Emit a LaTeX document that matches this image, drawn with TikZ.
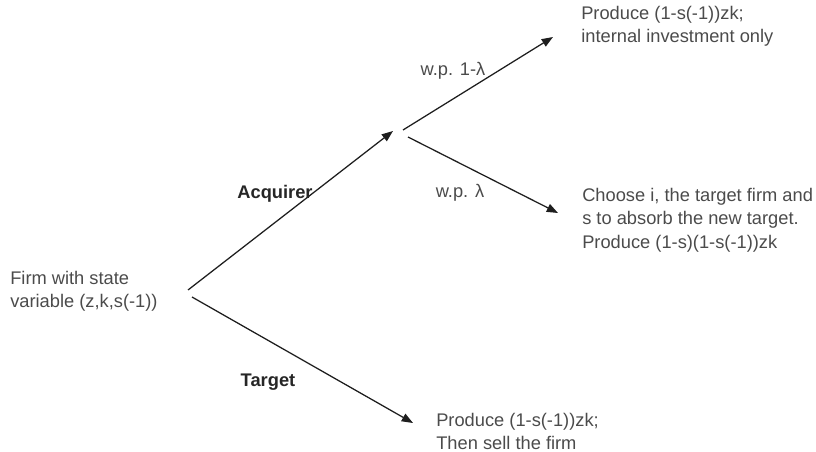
\documentclass[tikz,border=0pt]{standalone}
\usepackage{fontspec}
\setmainfont{Liberation Sans}
\usetikzlibrary{arrows.meta,positioning}
\definecolor{txtgray}{RGB}{75,75,75}
\definecolor{linegray}{RGB}{30,30,30}
\tikzset{
  arr/.style={-{Triangle[length=8pt,width=6pt]},linegray,line width=0.9pt},
  txt/.style={anchor=north west,align=left,inner sep=0pt,text=txtgray,
    font=\fontsize{13}{16.6}\selectfont},
  lbl/.style={inner sep=0pt,text=txtgray,font=\fontsize{13}{16.6}\selectfont},
  blbl/.style={inner sep=0pt,text=black!85,font=\fontsize{13}{16.6}\selectfont\bfseries}
}
\begin{document}
\begin{tikzpicture}[x=0.025cm,y=-0.025cm]
  \useasboundingbox (0,0) rectangle (816,452);
  % texts
  \node[txt] (firm) at (10,271) {Firm with state\\variable (z,k,s(-1))};
  \node[txt] (internal) at (581,6) {Produce (1-s(-1))zk;\\internal investment only};
  \node[txt] (absorb) at (582,188) {Choose i, the target firm and\\s to absorb the new target.\\Produce (1-s)(1-s(-1))zk};
  \node[txt] (sell) at (436,413) {Produce (1-s(-1))zk;\\Then sell the firm};
  % branch ends
  \coordinate (up0) at (188,290);
  \coordinate (up1) at (393,131);
  \coordinate (dn0) at (192,297);
  \coordinate (dn1) at (413,423);
  \coordinate (hi0) at (403,130);
  \coordinate (hi1) at (553,37);
  \coordinate (lo0) at (408,137);
  \coordinate (lo1) at (558,213);
  \draw[arr] (up0) -- (up1);
  \draw[arr] (dn0) -- (dn1);
  \draw[arr] (hi0) -- (hi1);
  \draw[arr] (lo0) -- (lo1);
  % labels
  \node[blbl] (acquirer) at (275,194) {Acquirer};
  \node[blbl] (target) at (268,382) {Target};
  \node[lbl] (pnot) at (453,71) {w.p. 1-λ};
  \node[lbl] (pyes) at (460,193) {w.p. λ};
\end{tikzpicture}
\end{document}
